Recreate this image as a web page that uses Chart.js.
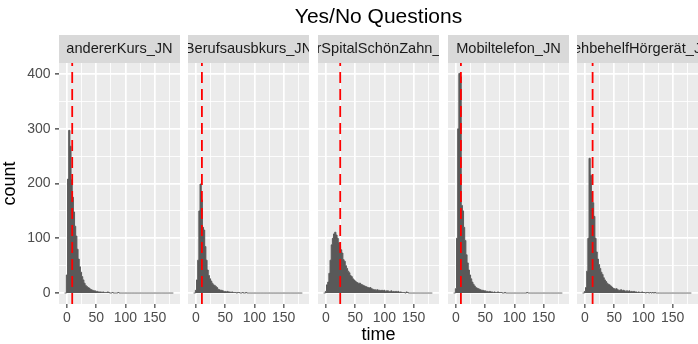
<!DOCTYPE html>
<html>
<head>
<meta charset="utf-8">
<script src="https://cdn.jsdelivr.net/npm/chart.js@4.4.1/dist/chart.umd.min.js"></script>
<style>
html,body{margin:0;padding:0;background:#ffffff;overflow:hidden}
#wrap{position:relative;width:698px;height:344px;overflow:hidden}
#wrap canvas{position:absolute;left:0;top:0}
</style>
</head>
<body>
<div id="wrap"></div>
<script>
// ---------- data ----------
const chartTitle = "Yes/No Questions";
const xAxisTitle = "time";
const yAxisTitle = "count";
const facetLabels = ["andererKurs_JN", "Berufsausbkurs_JN", "KurSpitalSchönZahn_JN", "Mobiltelefon_JN", "SehbehelfHörgerät_JN"];
const binStart = -4;   // centre of first histogram bin
const binWidth = 2;
const xTickLabels = [0, 50, 100, 150];
const yTickLabels = [0, 100, 200, 300, 400];
const medians = [9.0, 10.2, 24.4, 8.5, 13.1];

const countsAndererKurs = [
  0, 0, 33, 208, 297, 268, 207, 175, 148, 122,
  104, 80, 62, 48, 38, 30, 24, 18, 14, 12,
  10, 9, 7, 6, 5, 4, 4, 3, 3, 2,
  2, 2, 1, 2, 1, 1, 1, 2, 1, 0,
  0, 1, 0, 0, 0, 0, 1, 0, 0, 0,
  0, 0, 0, 0, 0, 0, 0, 0, 0, 0,
  0, 0, 0, 0, 0, 0, 0, 0, 0, 0,
  0, 0, 0, 0, 0, 0, 0, 0, 0, 0,
  0, 0, 0, 0, 0, 0, 0, 0, 0, 0,
  0, 0, 0, 0
];
const countsBerufsausbkurs = [
  0, 0, 5, 24, 60, 150, 199, 170, 120, 115,
  85, 60, 42, 32, 26, 22, 18, 15, 14, 12,
  10, 7, 6, 5, 5, 4, 3, 3, 2, 3,
  2, 2, 1, 2, 1, 1, 1, 0, 1, 1,
  0, 0, 1, 0, 0, 1, 0, 0, 0, 0,
  0, 0, 0, 0, 0, 0, 0, 0, 0, 0,
  0, 0, 0, 0, 0, 0, 0, 0, 0, 0,
  0, 0, 0, 0, 0, 0, 0, 0, 0, 0,
  0, 0, 0, 0, 0, 0, 0, 0, 0, 0,
  0, 0, 0, 0
];
const countsKurSpital = [
  0, 0, 3, 15, 20, 36, 60, 88, 100, 108,
  111, 106, 100, 92, 85, 79, 73, 61, 58, 50,
  45, 40, 37, 32, 30, 26, 24, 22, 20, 19,
  17, 18, 16, 15, 14, 13, 12, 11, 10, 9,
  10, 8, 7, 6, 6, 5, 6, 5, 5, 4,
  5, 4, 5, 3, 4, 4, 3, 3, 4, 2,
  3, 2, 3, 2, 3, 1, 2, 1, 1, 1,
  0, 2, 1, 0, 0, 0, 0, 0, 0, 0,
  0, 0, 0, 0, 0, 0, 0, 0, 0, 0,
  0, 0, 0, 0
];
const countsMobiltelefon = [
  0, 0, 8, 100, 300, 401, 395, 160, 150, 120,
  96, 70, 55, 42, 33, 26, 20, 16, 13, 10,
  9, 8, 7, 6, 5, 5, 4, 4, 3, 3,
  2, 3, 2, 2, 1, 2, 1, 1, 2, 1,
  1, 1, 0, 0, 1, 0, 0, 0, 0, 0,
  0, 0, 0, 0, 0, 0, 0, 0, 0, 0,
  0, 0, 0, 1, 0, 0, 0, 0, 0, 0,
  0, 0, 0, 0, 0, 0, 0, 0, 0, 0,
  0, 0, 0, 0, 0, 0, 0, 0, 0, 0,
  0, 0, 0, 0
];
const countsSehbehelf = [
  0, 0, 3, 10, 40, 100, 246, 215, 185, 165,
  140, 100, 75, 62, 52, 45, 38, 34, 28, 24,
  21, 18, 16, 15, 13, 11, 9, 8, 7, 8,
  6, 5, 5, 6, 4, 5, 4, 3, 4, 3,
  4, 2, 3, 2, 3, 2, 2, 1, 2, 1,
  1, 2, 1, 1, 0, 1, 1, 0, 1, 0,
  1, 0, 1, 0, 0, 0, 0, 0, 0, 0,
  0, 0, 0, 0, 0, 0, 0, 0, 0, 0,
  0, 0, 0, 0, 0, 0, 0, 0, 0, 0,
  0, 0, 0, 0
];
const panelCounts = [countsAndererKurs, countsBerufsausbkurs, countsKurSpital, countsMobiltelefon, countsSehbehelf];

// ---------- layout / style ----------
const W = 698, H = 344, CW = 760;
const FONT = '"Liberation Sans", Arial, Helvetica, sans-serif';
const STRIP_TOP = 35, PANEL_BOTTOM = 304, PANEL_W = 121;
const panelLefts = [59, 188, 318, 448, 577];
const X_MIN = -13.6, X_MAX = 193.4, Y_MIN = -20, Y_MAX = 420;

Chart.defaults.font.family = FONT;

const panelDeco = {
  id: 'panelDeco',
  beforeDraw(chart, args, opts) {
    const ctx = chart.ctx, a = chart.chartArea;
    ctx.save();
    ctx.beginPath();
    ctx.rect(0, 0, CW, STRIP_TOP);
    ctx.rect(opts.clipLeft, STRIP_TOP, opts.clipRight - opts.clipLeft, H - STRIP_TOP);
    ctx.clip();
    ctx.fillStyle = '#D9D9D9';
    ctx.fillRect(a.left, STRIP_TOP, a.right - a.left, a.top - STRIP_TOP);
    ctx.fillStyle = '#EBEBEB';
    ctx.fillRect(a.left, a.top, a.right - a.left, a.bottom - a.top);
  },
  afterDatasetsDraw(chart, args, opts) {
    const ctx = chart.ctx, a = chart.chartArea;
    const x = chart.scales.x.getPixelForValue(opts.median);
    ctx.save();
    ctx.strokeStyle = '#FF0000';
    ctx.lineWidth = 1.8;
    ctx.setLineDash([11, 6]);
    ctx.beginPath();
    ctx.moveTo(x, a.bottom);
    ctx.lineTo(x, a.top);
    ctx.stroke();
    ctx.restore();
  },
  afterDraw(chart) {
    chart.ctx.restore();
  }
};

const wrap = document.getElementById('wrap');
panelCounts.forEach((counts, i) => {
  const cv = document.createElement('canvas');
  cv.width = CW; cv.height = H;
  cv.style.width = CW + 'px'; cv.style.height = H + 'px';
  wrap.appendChild(cv);
  const left = panelLefts[i];
  const right = left + PANEL_W;
  const first = i === 0, mid = i === 2;
  const AX = first ? left : 40;     // side box width (left axis + invisible right axis)
  new Chart(cv, {
    type: 'line',
    data: {
      datasets: [{
        // histogram: one step per bin, filled down to zero
        data: counts.map((c, k) => ({ x: binStart + k * binWidth, y: c })),
        stepped: 'middle',
        fill: 'origin',
        backgroundColor: '#595959',
        borderColor: '#595959',
        borderWidth: 1,
        pointRadius: 0,
        pointHoverRadius: 0,
        tension: 0
      }]
    },
    options: {
      responsive: false,
      animation: false,
      devicePixelRatio: 1,
      events: [],
      layout: {
        padding: { left: left - AX, right: CW - (right + AX), top: mid ? 0 : STRIP_TOP, bottom: 0 }
      },
      plugins: {
        legend: { display: false },
        tooltip: { enabled: false },
        title: {
          display: mid, text: chartTitle, color: '#000000', fullSize: true,
          font: { family: FONT, size: 21, weight: 'normal', lineHeight: 1.2 },
          padding: { top: 5, bottom: 4.8 }
        },
        subtitle: {
          display: true, text: facetLabels[i], color: '#1A1A1A', fullSize: true,
          font: { family: FONT, size: 14.6, weight: 'normal', lineHeight: 1.2 },
          padding: { top: 5.24, bottom: 5.24 }
        },
        panelDeco: {
          median: medians[i],
          clipLeft: first ? 0 : left,
          clipRight: right
        }
      },
      scales: {
        x: {
          type: 'linear', min: X_MIN, max: X_MAX,
          afterFit: (s) => { s.height = H - PANEL_BOTTOM; },
          border: { display: false },
          grid: {
            color: '#FFFFFF',
            lineWidth: (c) => (c.tick && xTickLabels.includes(c.tick.value)) ? 1.7 : 0.85,
            tickLength: 4,
            tickWidth: 1.1,
            tickColor: (c) => (c.tick && xTickLabels.includes(c.tick.value)) ? '#333333' : 'rgba(0,0,0,0)'
          },
          ticks: {
            stepSize: 25, includeBounds: false, autoSkip: false, maxRotation: 0, minRotation: 0,
            padding: 2, color: '#4D4D4D', font: { family: FONT, size: 14 },
            callback: (v) => xTickLabels.includes(v) ? String(v) : ''
          },
          title: {
            display: mid, text: xAxisTitle, color: '#000000',
            font: { family: FONT, size: 18, lineHeight: 1.0 },
            padding: { top: 0, bottom: 0 }
          }
        },
        y: {
          type: 'linear', position: 'left', min: Y_MIN, max: Y_MAX,
          afterFit: (s) => { s.width = AX; },
          border: { display: false },
          grid: {
            color: '#FFFFFF',
            lineWidth: (c) => (c.tick && yTickLabels.includes(c.tick.value)) ? 1.7 : 0.85,
            drawTicks: first,
            tickLength: 4,
            tickWidth: 1.1,
            tickColor: (c) => (c.tick && yTickLabels.includes(c.tick.value)) ? '#333333' : 'rgba(0,0,0,0)'
          },
          ticks: {
            display: first,
            stepSize: 50, includeBounds: false, autoSkip: false,
            padding: 4.5, color: '#4D4D4D', font: { family: FONT, size: 14 },
            callback: (v) => yTickLabels.includes(v) ? String(v) : ''
          },
          title: {
            display: first, text: yAxisTitle, color: '#000000',
            font: { family: FONT, size: 18, lineHeight: 1.1 },
            padding: { top: 0, bottom: 0 }
          }
        },
        ySide: {
          type: 'linear', position: 'right', display: true,
          afterFit: (s) => { s.width = AX; },
          border: { display: false },
          grid: { display: false, drawTicks: false },
          ticks: { display: false }
        }
      }
    },
    plugins: [panelDeco]
  });
});
</script>
</body>
</html>
